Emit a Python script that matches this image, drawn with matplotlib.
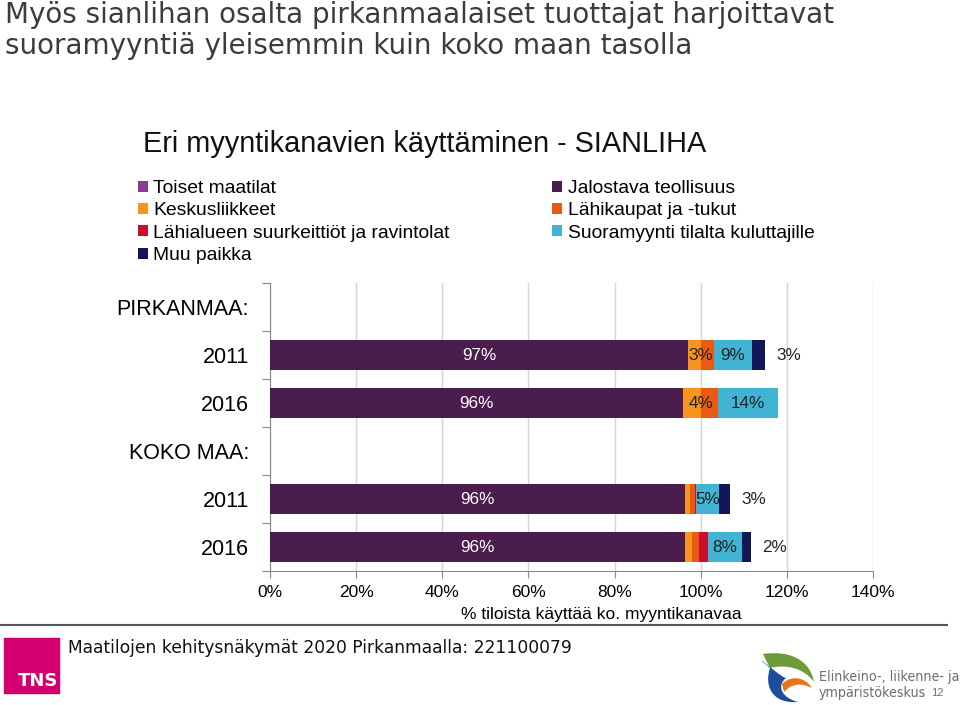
import matplotlib
matplotlib.use("Agg")
import matplotlib.pyplot as plt
from matplotlib.patches import Rectangle, PathPatch
from matplotlib.path import Path
from matplotlib import font_manager
import numpy as np

# data (% of farms using the channel)
rows = ["PIRKANMAA:", "2011", "2016", "KOKO MAA:", "2011", "2016"]
has_bar = [False, True, True, False, True, True]
series = ["Toiset maatilat", "Jalostava teollisuus", "Keskusliikkeet",
          "Lähikaupat ja -tukut", "Lähialueen suurkeittiöt ja ravintolat",
          "Suoramyynti tilalta kuluttajille", "Muu paikka"]
colors = ["#8B3A96", "#4A1D4E", "#F7941D", "#E95A12", "#C8102E", "#40B4D2", "#121759"]
toiset = [0, 0, 0, 0]
jalostava = [97, 96, 96.3, 96.4]
keskus = [3, 4, 1.2, 1.6]
lahikaupat = [3, 4, 1.2, 1.7]
lahialue = [0, 0, 0.3, 1.9]
suora = [9, 14, 5.3, 8.1]
muu = [3, 0, 2.6, 2.0]
values = [toiset, jalostava, keskus, lahikaupat, lahialue, suora, muu]
xticks = [0, 20, 40, 60, 80, 100, 120, 140]

W, H = 960, 705
fig = plt.figure(figsize=(9.6, 7.05), dpi=100)
arial = "Liberation Sans"
fonts = font_manager.fontManager.ttflist
if any(f.name == "Liberation Sans Narrow" for f in fonts):
    narrow = dict(family="Liberation Sans Narrow", fontsize=11)
elif any(f.name == "DejaVu Sans" and f.stretch == "condensed" for f in fonts):
    narrow = dict(family="DejaVu Sans", stretch="condensed", fontsize=10.2)
else:
    narrow = dict(family="DejaVu Sans", fontsize=9)

def fx(px):
    return px / W

def fy(py):
    return 1 - py / H

fig.text(fx(5), fy(1), "Myös sianlihan osalta pirkanmaalaiset tuottajat harjoittavat\n"
         "suoramyyntiä yleisemmin kuin koko maan tasolla",
         fontsize=20, family="DejaVu Sans", color="#3C3C3C", va="top", ha="left",
         linespacing=1.14)
fig.text(fx(143), fy(144), "Eri myyntikanavien käyttäminen - SIANLIHA", fontsize=20.8,
         family=arial, color="#111111", va="center", ha="left")

ax = fig.add_axes([fx(270), fy(571), fx(873) - fx(270), (571 - 283) / H])

ypos = [i for i, b in enumerate(has_bar) if b]
left = np.zeros(len(ypos))
containers = []
for name, vals, c in zip(series, values, colors):
    vals = np.array(vals, dtype=float)
    bc = ax.barh(ypos, vals, left=left, height=0.61, color=c, label=name, zorder=3)
    containers.append(bc)
    for k, y in enumerate(ypos):
        v = vals[k]
        if name == "Jalostava teollisuus":
            ax.text(left[k] + v / 2, y, f"{v:.0f}%", color="white", ha="center",
                    va="center", fontsize=12.3, family=arial, zorder=4)
        elif name == "Keskusliikkeet" and v >= 2:
            ax.text(left[k] + v, y, f"{v:.0f}%", color="#222222", ha="center",
                    va="center", fontsize=12.3, family=arial, zorder=4)
        elif name == "Suoramyynti tilalta kuluttajille" and v > 0:
            ax.text(left[k] + v / 2, y, f"{v:.0f}%", color="#222222", ha="center",
                    va="center", fontsize=12.3, family=arial, zorder=4)
        elif name == "Muu paikka" and v > 0:
            ax.text(left[k] + v + 5.5, y, f"{v:.0f}%", color="#222222", ha="center",
                    va="center", fontsize=12.3, family=arial, zorder=4)
    left = left + vals

ax.set_xlim(0, 140)
ax.set_ylim(len(rows) - 0.5, -0.5)
ax.set_xticks(xticks)
ax.set_xticklabels([f"{t}%" for t in xticks], family=arial, fontsize=12.5)
ax.xaxis.grid(True, color="#D4D4D4", lw=1, zorder=0)
ax.set_axisbelow(True)

# category boundaries get the tick marks, labels sit in the middle
ax.set_yticks(np.arange(-0.5, len(rows)), minor=False)
ax.set_yticklabels([])
ax.set_yticks(np.arange(len(rows)), minor=True)
ax.set_yticklabels(rows, minor=True, family=arial, fontsize=15.5)
ax.tick_params(axis="y", which="major", length=6, color="#888888")
ax.tick_params(axis="y", which="minor", length=0, pad=15)
ax.tick_params(axis="x", length=5, color="#888888", pad=5)
for s in ["top", "right"]:
    ax.spines[s].set_visible(False)
for s in ["left", "bottom"]:
    ax.spines[s].set_color("#888888")

fig.text(fx(601), fy(614), "% tiloista käyttää ko. myyntikanavaa", family=arial,
         fontsize=12.5, ha="center", va="center")

order = [0, 2, 4, 6, 1, 3, 5]
leg = fig.legend([containers[i] for i in order], [series[i] for i in order], ncol=2,
                 loc="upper left", bbox_to_anchor=(fx(138), fy(180)), frameon=False,
                 prop={"family": arial, "size": 13.9}, handlelength=0.5, handleheight=0.5,
                 handletextpad=0.3, labelspacing=0.28, columnspacing=5.3,
                 borderaxespad=0, borderpad=0)

# footer
fig.add_artist(plt.Line2D([0, fx(947)], [fy(625), fy(625)], color="#555555", lw=1.5))
fig.text(fx(68), fy(648), "Maatilojen kehitysnäkymät 2020 Pirkanmaalla: 221100079",
         family="DejaVu Sans", fontsize=12.3, ha="left", va="center", color="#111111")
fig.add_artist(Rectangle((fx(4), fy(693)), fx(55), 55 / H, color="#D1006E",
                         transform=fig.transFigure))
fig.text(fx(18), fy(681), "TNS", color="white", fontsize=13, weight="bold",
         family="DejaVu Sans", ha="left", va="center")

# ELY logo, rough shapes
lax = fig.add_axes([fx(762), fy(704), fx(54), 52 / H])
lax.set_xlim(0, 54)
lax.set_ylim(52, 0)
lax.axis("off")
green = Path([(1, 2), (28, -2), (48, 8), (52, 30), (42, 16), (24, 12), (8, 16), (1, 2)],
             [Path.MOVETO, Path.CURVE4, Path.CURVE4, Path.CURVE4,
              Path.CURVE4, Path.CURVE4, Path.CURVE4, Path.CLOSEPOLY])
lax.add_patch(PathPatch(green, fc="#6E9B3A", ec="none"))
blue = Path([(8, 16), (2, 34), (10, 52), (36, 50), (20, 46), (14, 34), (24, 26),
             (16, 24), (10, 20), (8, 16)],
            [Path.MOVETO, Path.CURVE4, Path.CURVE4, Path.CURVE4, Path.CURVE4,
             Path.CURVE4, Path.CURVE4, Path.CURVE4, Path.CURVE4, Path.CLOSEPOLY])
lax.add_patch(PathPatch(blue, fc="#1C4E9B", ec="none"))
orange = Path([(20, 32), (30, 22), (44, 26), (50, 36), (40, 31), (30, 31), (22, 40), (20, 32)],
              [Path.MOVETO, Path.CURVE4, Path.CURVE4, Path.CURVE4,
               Path.CURVE4, Path.CURVE4, Path.CURVE4, Path.CLOSEPOLY])
lax.add_patch(PathPatch(orange, fc="#E8761E", ec="none"))
fig.text(fx(819), fy(677), "Elinkeino-, liikenne- ja", color="#6E6E6E",
         ha="left", va="center", **narrow)
fig.text(fx(819), fy(693), "ympäristökeskus", color="#6E6E6E",
         ha="left", va="center", **narrow)
fig.text(fx(931), fy(693), "12", family=arial, fontsize=8, color="#6E6E6E",
         ha="left", va="center")

fig.savefig("out.png", dpi=100)
